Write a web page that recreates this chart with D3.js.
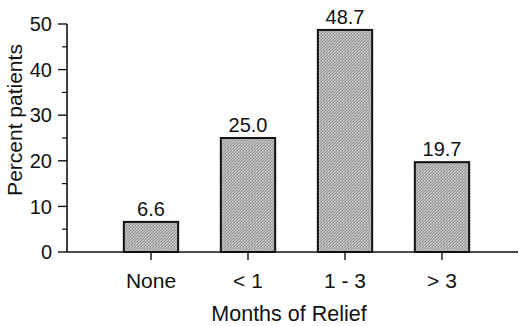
<!DOCTYPE html>
<html>
<head>
<meta charset="utf-8">
<script src="https://cdn.jsdelivr.net/npm/d3@7"></script>
<style>
  html, body { margin: 0; padding: 0; background: #fff; }
  svg text { font-family: "Liberation Sans", Arial, sans-serif; fill: #111; }
</style>
</head>
<body>
<div id="chart"></div>
<script>
// Chart data
const categories = ['None', '< 1', '1 - 3', '> 3'];
const percentValues = [6.6, 25.0, 48.7, 19.7];
const yTickValues = [0, 10, 20, 30, 40, 50];
const yMinorTicks = [5, 15, 25, 35, 45];

const width = 519, height = 326;

const svg = d3.select('#chart').append('svg')
    .attr('width', width)
    .attr('height', height);

// Halftone-like fill for the bars
const defs = svg.append('defs');
const pat = defs.append('pattern')
    .attr('id', 'halftone')
    .attr('patternUnits', 'userSpaceOnUse')
    .attr('width', 3).attr('height', 3);
pat.append('rect').attr('width', 3).attr('height', 3).attr('fill', '#bcbcbc');
pat.append('rect').attr('x', 0).attr('y', 0).attr('width', 1).attr('height', 1).attr('fill', '#8e8e8e');
pat.append('rect').attr('x', 2).attr('y', 1).attr('width', 1).attr('height', 1).attr('fill', '#979797');
pat.append('rect').attr('x', 1).attr('y', 2).attr('width', 1).attr('height', 1).attr('fill', '#929292');
pat.append('rect').attr('x', 1).attr('y', 0).attr('width', 1).attr('height', 1).attr('fill', '#d2d2d2');

// Scales
const y = d3.scaleLinear().domain([0, 50]).range([252, 24]);
const x = d3.scaleBand()
    .domain(categories)
    .range([102.5, 490.5])
    .paddingInner(0.44)
    .paddingOuter(0.22);

const axisX = 67;

// Y axis line
svg.append('line')
    .attr('x1', axisX).attr('x2', axisX)
    .attr('y1', y(50)).attr('y2', y(0))
    .attr('stroke', '#111').attr('stroke-width', 1.6);

// Major ticks + labels
const yTicks = svg.selectAll('.ytick')
    .data(yTickValues)
    .enter().append('g')
    .attr('class', 'ytick')
    .attr('transform', d => `translate(0,${y(d)})`);

yTicks.append('line')
    .attr('x1', axisX - 9).attr('x2', axisX)
    .attr('stroke', '#111').attr('stroke-width', 1.4);

yTicks.append('text')
    .attr('x', 52)
    .attr('dy', '0.36em')
    .attr('text-anchor', 'end')
    .style('font-size', '20px')
    .text(d => d);

// Minor ticks
svg.selectAll('.yminor')
    .data(yMinorTicks)
    .enter().append('line')
    .attr('class', 'yminor')
    .attr('x1', axisX - 5).attr('x2', axisX)
    .attr('y1', d => y(d)).attr('y2', d => y(d))
    .attr('stroke', '#111').attr('stroke-width', 1.2);

// Y axis title
svg.append('text')
    .attr('transform', `translate(22,${(y(0) + y(50)) / 2 - 18}) rotate(-90)`)
    .attr('text-anchor', 'middle')
    .style('font-size', '21px')
    .text('Percent patients');

// Bars
svg.selectAll('.bar')
    .data(percentValues)
    .enter().append('rect')
    .attr('class', 'bar')
    .attr('x', (d, i) => x(categories[i]))
    .attr('y', d => y(d))
    .attr('width', x.bandwidth())
    .attr('height', d => y(0) - y(d))
    .attr('fill', 'url(#halftone)')
    .attr('stroke', '#111')
    .attr('stroke-width', 2);

// Value labels
svg.selectAll('.value-label')
    .data(percentValues)
    .enter().append('text')
    .attr('class', 'value-label')
    .attr('x', (d, i) => x(categories[i]) + x.bandwidth() / 2)
    .attr('y', d => y(d) - 6)
    .attr('text-anchor', 'middle')
    .style('font-size', '20px')
    .text(d => d.toFixed(1));

// X axis baseline
svg.append('line')
    .attr('x1', axisX).attr('x2', 518)
    .attr('y1', y(0)).attr('y2', y(0))
    .attr('stroke', '#111').attr('stroke-width', 1.6);

// X ticks + labels
const xTicks = svg.selectAll('.xtick')
    .data(categories)
    .enter().append('g')
    .attr('class', 'xtick')
    .attr('transform', d => `translate(${x(d) + x.bandwidth() / 2},0)`);

xTicks.append('line')
    .attr('y1', y(0)).attr('y2', y(0) + 8)
    .attr('stroke', '#111').attr('stroke-width', 1.4);

xTicks.append('text')
    .attr('y', 288)
    .attr('text-anchor', 'middle')
    .style('font-size', '21px')
    .text(d => d);

// X axis title
svg.append('text')
    .attr('x', 289)
    .attr('y', 321)
    .attr('text-anchor', 'middle')
    .style('font-size', '21.5px')
    .text('Months of Relief');
</script>
</body>
</html>
